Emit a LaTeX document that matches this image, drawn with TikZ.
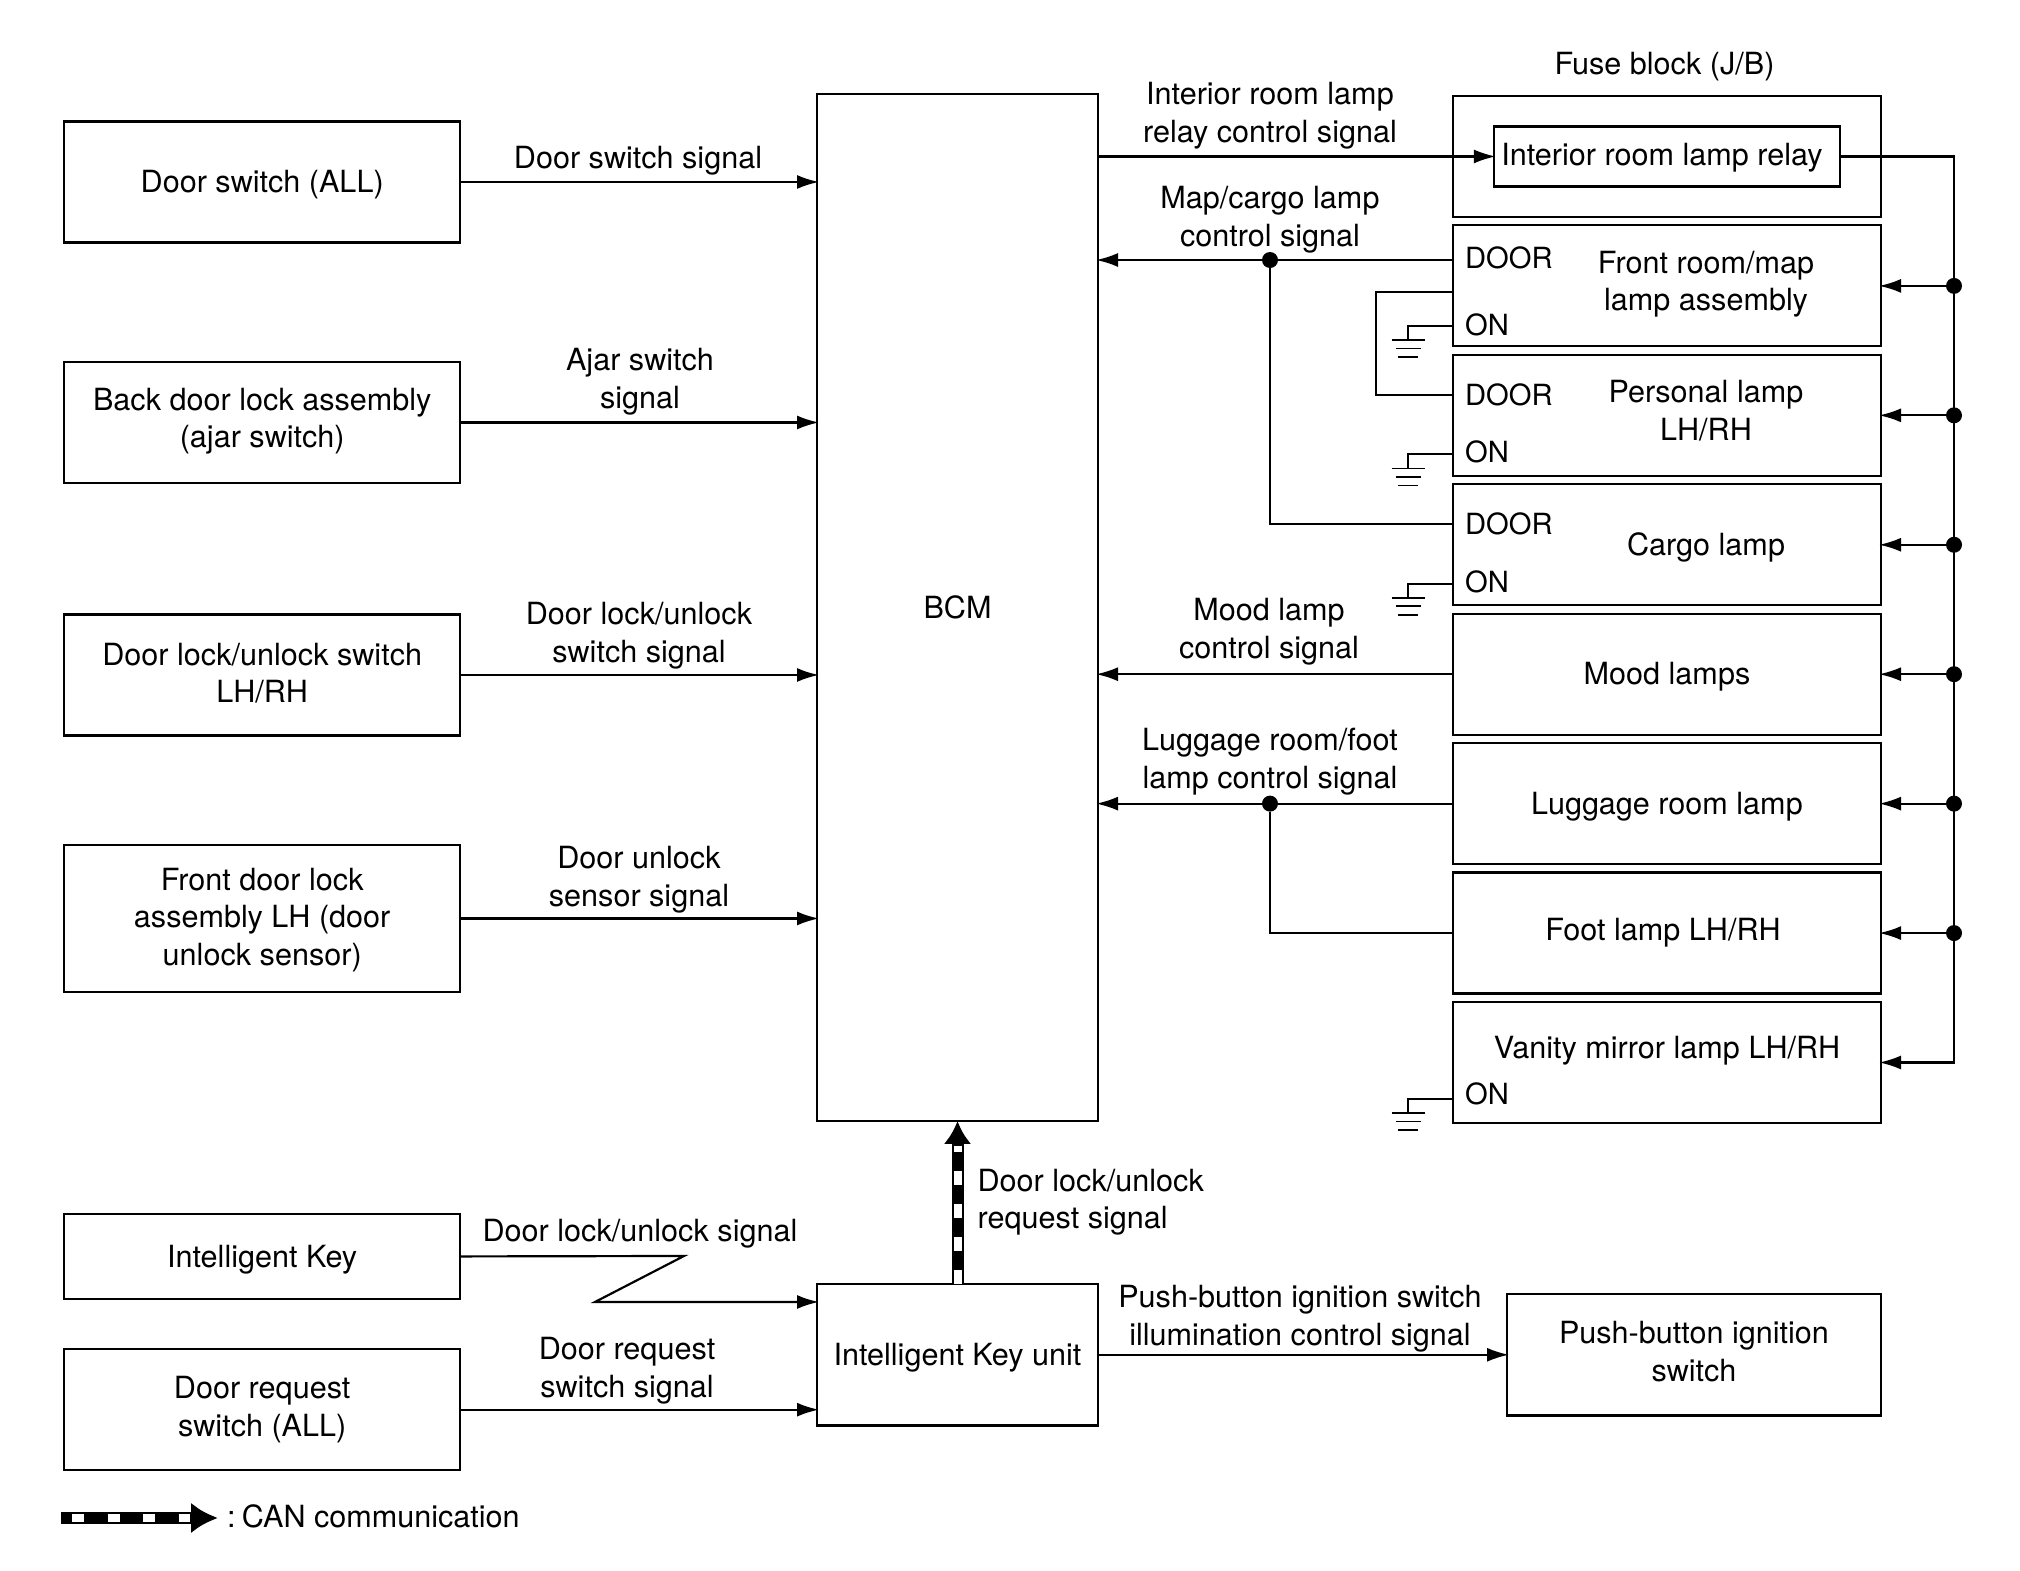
\documentclass[tikz,border=0pt]{standalone}
\usepackage{fontspec}
\setmainfont{TeX Gyre Heros}
\usetikzlibrary{positioning, arrows.meta}

\tikzset{
    block/.style={draw, outer sep=0, inner sep=0, align=center},
    inputbox/.style={block, minimum width=3.956cm, minimum height=1.21cm},
    lampbox/.style={block, minimum width=4.28cm, minimum height=1.21cm},
    oneline/.style={text height=.28cm, text depth=.065cm},
    signal/.style={inner sep=0, align=center},
    pinlabel/.style={inner sep=0, anchor=west, font=\fontsize{8.3}{10}\selectfont},
    junction/.style={circle, fill, inner sep=0, outer sep=0, minimum size=.16cm},
    earth/.pic={
        \draw[line width=.45pt] (-.165,0) -- (.165,0);
        \draw[line width=.45pt] (-.125,-.085) -- (.125,-.085);
        \draw[line width=.45pt] (-.10,-.17) -- (.10,-.17);
    },
    canbar/.style={line width=.12cm, draw=black},
    canmark/.style={line width=.08cm, draw=white}
}

\begin{document}
\begin{tikzpicture}[>={Latex[length=.22cm,width=.14cm,sep=-.02cm]}, line width=.62pt,
    font=\fontsize{8.7}{10.6}\selectfont]
    \useasboundingbox (0,0) rectangle (20.2,15.71);

    \node [block, oneline,
        minimum width=2.81cm,
        minimum height=10.27cm
    ] (bcm) at (9.575,9.635) {BCM};
    \node [block, oneline,
        minimum width=2.81cm,
        minimum height=1.416cm,
        below=1.63 of bcm
    ] (ikunit) {Intelligent Key unit};
    \node [block,
        minimum width=3.74cm,
        minimum height=1.215cm,
        text depth=.07cm,
        right=4.09 of ikunit
    ] (pushsw) {Push-button ignition\\switch};

    \node [inputbox, oneline] (doorsw) at (2.622,13.89) {Door switch (ALL)};
    \node [inputbox, text depth=.09cm, below=1.195 of doorsw] (backdoor) {Back door lock assembly\\(ajar switch)};
    \node [inputbox, text depth=.04cm, below=1.315 of backdoor] (lockunlock) {Door lock/unlock switch\\LH/RH};
    \node [inputbox, minimum height=1.47cm, text depth=.034cm, below=1.095 of lockunlock] (frontlock) {Front door lock\\assembly LH (door\\unlock sensor)};
    \node [inputbox, oneline, minimum height=.855cm, below=2.217 of frontlock] (ikey) {Intelligent Key};
    \node [inputbox, below=.5 of ikey] (reqsw) {Door request\\switch (ALL)};

    \node [lampbox] (fuse) at (16.67,14.145) {};
    \node [block,
        minimum width=3.464cm,
        minimum height=.6cm
    ] (relay) at (fuse) {};
    \node [lampbox, below=.0843 of fuse] (front) {};
    \node [lampbox, below=.0843 of front] (personal) {};
    \node [lampbox, below=.0843 of personal] (cargo) {};
    \node [lampbox, oneline, below=.0843 of cargo] (mood) {Mood lamps};
    \node [lampbox, oneline, below=.0843 of mood] (luggage) {Luggage room lamp};
    \node [lampbox, below=.0843 of luggage] (foot) {};
    \node [lampbox, below=.0843 of foot] (vanity) {};

    \node [signal] (fusetitle) at (16.645,15.039) {Fuse block (J/B)};
    \node [signal] (relayname) at ([xshift=-.05cm,yshift=-.013cm]relay.center) {Interior room lamp relay};
    \node [signal] (frontname) at ([xshift=.39cm,yshift=.014cm]front.center) {Front room/map\\lamp assembly};
    \node [signal] (personalname) at ([xshift=.39cm,yshift=.046cm]personal.center) {Personal lamp\\LH/RH};
    \node [signal] (cargoname) at ([xshift=.39cm,yshift=-.026cm]cargo.center) {Cargo lamp};
    \node [signal] (footname) at ([xshift=-.04cm]foot.center) {Foot lamp LH/RH};
    \node [signal] (vanityname) at ([yshift=.119cm]vanity.center) {Vanity mirror lamp LH/RH};

    \node [pinlabel] (frontdoorpin) at ([xshift=.11cm,yshift=.28cm]front.west) {DOOR};
    \node [pinlabel] (frontonpin) at ([xshift=.11cm,yshift=-.39cm]front.west) {ON};
    \node [pinlabel] (personaldoorpin) at ([xshift=.11cm,yshift=.2cm]personal.west) {DOOR};
    \node [pinlabel] (personalonpin) at ([xshift=.11cm,yshift=-.37cm]personal.west) {ON};
    \node [pinlabel] (cargodoorpin) at ([xshift=.11cm,yshift=.21cm]cargo.west) {DOOR};
    \node [pinlabel] (cargoonpin) at ([xshift=.11cm,yshift=-.37cm]cargo.west) {ON};
    \node [pinlabel] (vanityonpin) at ([xshift=.11cm,yshift=-.315cm]vanity.west) {ON};

    \node [signal] (doorswsig) at (6.38,14.099) {Door switch signal};
    \node [signal] (ajarsig) at (6.40,11.894) {Ajar switch\\signal};
    \node [signal] (locksig) at (6.39,9.354) {Door lock/unlock\\switch signal};
    \node [signal] (unlocksig) at (6.39,6.914) {Door unlock\\sensor signal};
    \node [signal] (keysig) at (6.40,3.375) {Door lock/unlock signal};
    \node [signal] (reqsig) at (6.27,2.004) {Door request\\switch signal};
    \node [signal] (relaysig) at (12.70,14.554) {Interior room lamp\\relay control signal};
    \node [signal] (mapsig) at (12.70,13.514) {Map/cargo lamp\\control signal};
    \node [signal] (moodsig) at (12.69,9.394) {Mood lamp\\control signal};
    \node [signal] (luggagesig) at (12.70,8.094) {Luggage room/foot\\lamp control signal};
    \node [signal] (pushsig) at (13.00,2.524) {Push-button ignition switch\\illumination control signal};
    \node [signal, align=left, anchor=west] (cansig) at (9.765,3.689) {Door lock/unlock\\request signal};
    \node [pinlabel, font=\fontsize{8.7}{10.6}\selectfont] (cantext) at (2.26,.55) {:\kern-.05cm{} CAN communication};

    % inputs %
    \draw[->] (doorsw.east) -- (doorsw.east -| bcm.west);
    \draw[->] (backdoor.east) -- (backdoor.east -| bcm.west);
    \draw[->] (lockunlock.east) -- (lockunlock.east -| bcm.west);
    \draw[->] (frontlock.east) -- (frontlock.east -| bcm.west);

    \coordinate (zigtop) at (6.84,3.15);
    \coordinate (zigbottom) at (5.95,2.69);
    \draw[->] (ikey.east) -- (zigtop) -- (zigbottom) -- (zigbottom -| ikunit.west);
    \draw[->] (reqsw.east) -- (reqsw.east -| ikunit.west);
    \draw[->] (ikunit.east) -- (ikunit.east -| pushsw.west);

    % can %
    \draw[canbar, -{Latex[length=.23cm,width=.28cm]}] (ikunit.north) -- (bcm.south);
    \draw[canmark, dash pattern=on .14cm off .19cm, shorten >=.25cm] (ikunit.north) -- (bcm.south);
    \coordinate (canstart) at (.61,.53);
    \coordinate (canend) at (2.18,.53);
    \draw[canbar, -{Latex[length=.27cm,width=.31cm]}] (canstart) -- (canend);
    \draw[canmark, dash pattern=on .12cm off .235cm, dash phase=.245cm, shorten >=.28cm] (canstart) -- (canend);

    % lamps %
    \draw[->] (bcm.east |- relay.west) -- (relay.west);
    \coordinate (frontdoor) at ([yshift=.259cm]front.west);
    \coordinate (cargodoor) at ([yshift=.208cm]cargo.west);
    \node [junction] (dotmap) at (frontdoor -| mapsig) {};
    \draw[->] (frontdoor) -- (frontdoor -| bcm.east);
    \draw (dotmap) |- (cargodoor);

    \coordinate (frontloop) at ([yshift=-.06cm]front.west);
    \coordinate (personaldoor) at ([yshift=.203cm]personal.west);
    \coordinate (loopside) at (13.76,12.35);
    \draw (frontloop) -| (loopside) |- (personaldoor);

    \draw[->] (mood.west) -- (mood.west -| bcm.east);
    \node [junction] (dotluggage) at (luggage.west -| luggagesig) {};
    \draw[->] (luggage.west) -- (luggage.west -| bcm.east);
    \draw (foot.west) -| (dotluggage);

    % grounds %
    \coordinate (fronton) at ([yshift=-.40cm]front.west);
    \coordinate (personalon) at ([yshift=-.39cm]personal.west);
    \coordinate (cargoon) at ([yshift=-.39cm]cargo.west);
    \coordinate (vanityon) at ([yshift=-.365cm]vanity.west);
    \coordinate (frontgnd) at ([xshift=-.45cm,yshift=-.14cm]fronton);
    \coordinate (personalgnd) at ([xshift=-.45cm,yshift=-.14cm]personalon);
    \coordinate (cargognd) at ([xshift=-.45cm,yshift=-.14cm]cargoon);
    \coordinate (vanitygnd) at ([xshift=-.45cm,yshift=-.14cm]vanityon);
    \draw (fronton) -| (frontgnd);
    \draw (personalon) -| (personalgnd);
    \draw (cargoon) -| (cargognd);
    \draw (vanityon) -| (vanitygnd);
    \pic at (frontgnd) {earth};
    \pic at (personalgnd) {earth};
    \pic at (cargognd) {earth};
    \pic at (vanitygnd) {earth};

    % supply bus %
    \coordinate (busside) at (19.54,10);
    \draw[->] (relay.east) -| (busside) |- (vanity.east);
    \node [junction] (dotfront) at (front.east -| busside) {};
    \node [junction] (dotpersonal) at (personal.east -| busside) {};
    \node [junction] (dotcargo) at (cargo.east -| busside) {};
    \node [junction] (dotmood) at (mood.east -| busside) {};
    \node [junction] (dotlamp) at (luggage.east -| busside) {};
    \node [junction] (dotfoot) at (foot.east -| busside) {};
    \draw[->] (dotfront) -- (front.east);
    \draw[->] (dotpersonal) -- (personal.east);
    \draw[->] (dotcargo) -- (cargo.east);
    \draw[->] (dotmood) -- (mood.east);
    \draw[->] (dotlamp) -- (luggage.east);
    \draw[->] (dotfoot) -- (foot.east);
\end{tikzpicture}
\end{document}
